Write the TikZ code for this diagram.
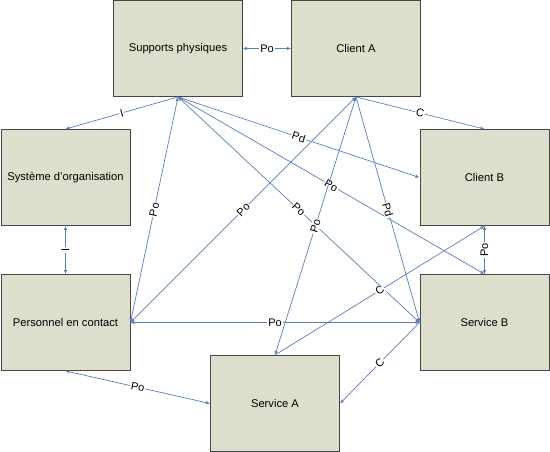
\documentclass[tikz,border=0pt]{standalone}
\usepackage{fontspec}
\setmainfont{Liberation Sans}
\usetikzlibrary{arrows.meta,positioning}
\definecolor{boxfill}{RGB}{221,222,203}
\definecolor{boxline}{RGB}{70,70,70}
\definecolor{linkblue}{RGB}{88,126,186}

\begin{document}
\begin{tikzpicture}[x=1pt,y=-1pt]

\tikzset{entity/.style={draw=boxline, fill=boxfill, line width=0.9pt,
  minimum width=\boxW, minimum height=\boxH, inner sep=0pt,
  font=\fontsize{11.2}{13}\selectfont},
  link/.style={draw=linkblue, line width=0.7pt, -{Latex[length=4pt,width=3.5pt]}},
  both/.style={link, {Latex[length=4pt,width=3.5pt]}-{Latex[length=4pt,width=3.5pt]}},
  rel/.style={midway, sloped, fill=white, inner sep=1pt,
  font=\fontsize{11}{13}\selectfont}}

    % Box size
    \def\boxW{129pt} % width of the boxes
    \def\boxH{96pt} % height of the boxes

    \useasboundingbox (0,0) rectangle (550,452);

    % Top row
    \node[entity] (SP) at (178,48.5) {Supports physiques};
    \node[entity] (CA) at (356,48.5) {Client A};

    % Middle row
    \node[entity] (SO) at (65.5,177.5) {Système d’organisation};
    \node[entity] (CB) at (484.5,177.5) {Client B};

    % Bottom rows
    \node[entity] (PC) at (65.5,322.5) {Personnel en contact};
    \node[entity] (SB) at (484.5,322.5) {Service B};
    \node[entity] (SA) at (275,403.5) {Service A};

    % Links from Supports physiques
    \draw[both] (SP) -- node[rel] {Po} (CA);
    \draw[link] (SP.south) -- node[rel] {I} (SO.north);
    \draw[both] (SP.south) -- node[rel] {Po} (PC.east);
    \draw[link] (SP.south) -- node[rel] {Pd} (CB.west);
    \draw[both] (SP.south) -- node[rel] {Po} (SB.north);
    \draw[both] (SP.south) -- node[rel] {Po} (SB.west);

    % Links from Client A
    \draw[both] (CA.south) -- node[rel] {Po} (PC.east);
    \draw[both] (CA.south) -- node[rel] {Po} (SA.north);
    \draw[link] (CA.south) -- node[rel] {Pd} (SB.west);
    \draw[link] (CA.south) -- node[rel] {C} (CB.north);

    % Other links
    \draw[both] (SO) -- node[rel] {I} (PC);
    \draw[link] (SA.north) -- node[rel] {C} (CB.south);
    \draw[both] (SB) -- node[rel] {Po} (CB);
    \draw[both] (PC) -- node[rel] {Po} (SB);
    \draw[link] (SB.west) -- node[rel] {C} (SA.east);
    \draw[both] (PC.south) -- node[rel] {Po} (SA.west);

\end{tikzpicture}
\end{document}
